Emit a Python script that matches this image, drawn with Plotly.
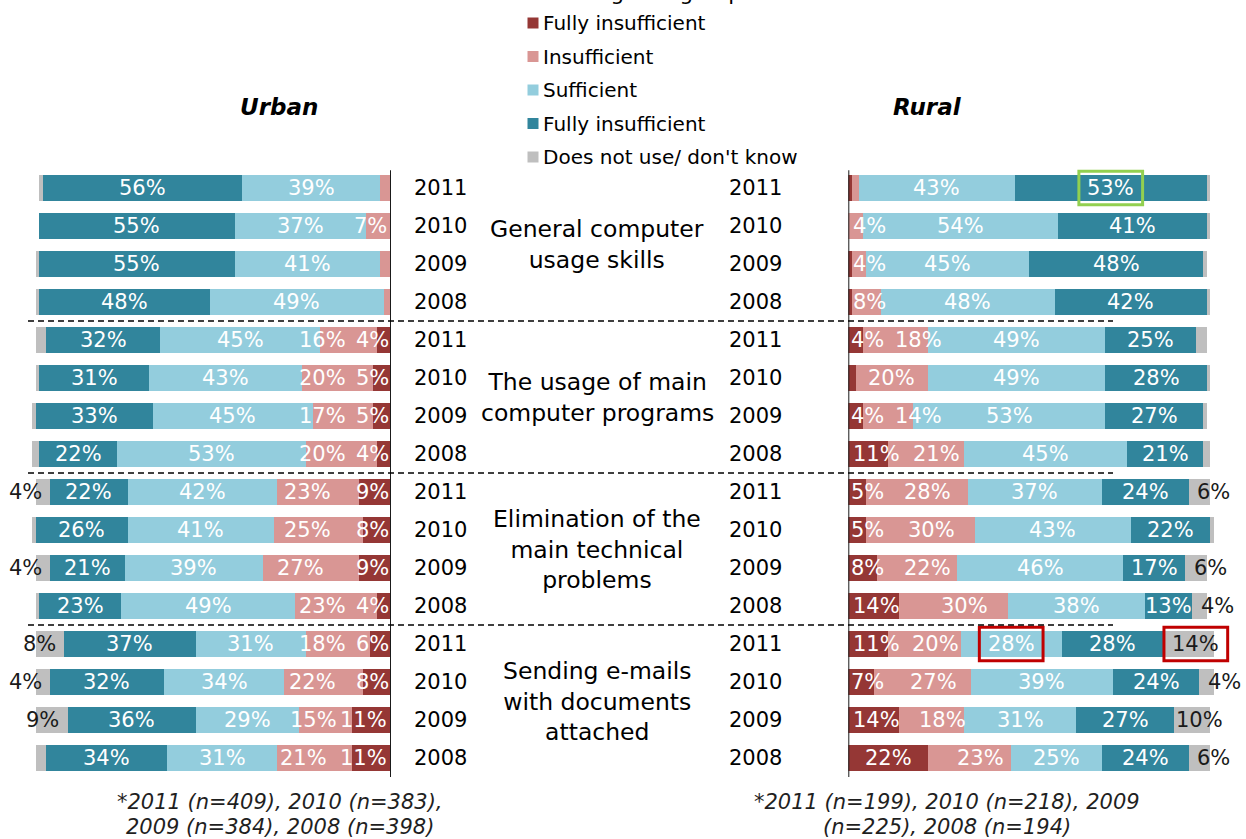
import plotly.graph_objects as go

W, H = 1246, 839
FONT = 'DejaVu Sans'

# ── Data ─────────────────────────────────────────────────────────
GROUPS = [
    'General computer<br>usage skills',
    'The usage of main<br>computer programs',
    'Elimination of the<br>main technical<br>problems',
    'Sending e-mails<br>with documents<br>attached',
]
YEARS = ['2011', '2010', '2009', '2008']
SERIES = ['Fully insufficient', 'Insufficient', 'Sufficient',
          'Fully insufficient', "Does not use/ don't know"]
COLORS = ['#953735', '#D99694', '#93CDDD', '#31859C', '#BFBFBF']

# each list: General (2011..2008), Programs, Elimination, Sending
urban_fully_insufficient = [0, 0, 0, 0,   4, 5, 5, 4,     9, 8, 9, 4,     6, 8, 11, 11]
urban_insufficient       = [3, 7, 3, 2,   16, 20, 17, 20, 23, 25, 27, 23, 18, 22, 15, 21]
urban_sufficient         = [39, 37, 41, 49, 45, 43, 45, 53, 42, 41, 39, 49, 31, 34, 29, 31]
urban_fully_sufficient   = [56, 55, 55, 48, 32, 31, 33, 22, 22, 26, 21, 23, 37, 32, 36, 34]
urban_dont_know          = [1, 0, 1, 1,   3, 1, 1, 2,     4, 1, 4, 1,     8, 4, 9, 3]

rural_fully_insufficient = [1, 0, 1, 1,   4, 2, 4, 11,    5, 5, 8, 14,    11, 7, 14, 22]
rural_insufficient       = [2, 4, 4, 8,   18, 20, 14, 21, 28, 30, 22, 30, 20, 27, 18, 23]
rural_sufficient         = [43, 54, 45, 48, 49, 49, 53, 45, 37, 43, 46, 38, 28, 39, 31, 25]
rural_fully_sufficient   = [53, 41, 48, 42, 25, 28, 27, 21, 24, 22, 17, 13, 28, 24, 27, 24]
rural_dont_know          = [1, 1, 1, 1,   3, 1, 1, 2,     6, 1, 6, 4,     14, 4, 10, 6]

URBAN_NOTE = ['*2011 (n=409), 2010 (n=383),', '2009 (n=384), 2008 (n=398)']
RURAL_NOTE = ['*2011 (n=199), 2010 (n=218), 2009', '(n=225), 2008 (n=194)']

# highlighted labels: (panel, row, series index, colour)
HIGHLIGHTS = [('rural', 0, 3, '#92D050'), ('rural', 12, 2, '#C00000'), ('rural', 12, 4, '#C00000')]

panels = {
    'urban': dict(vals=[urban_fully_insufficient, urban_insufficient, urban_sufficient,
                        urban_fully_sufficient, urban_dont_know], xref='x', yref='y'),
    'rural': dict(vals=[rural_fully_insufficient, rural_insufficient, rural_sufficient,
                        rural_fully_sufficient, rural_dont_know], xref='x2', yref='y2'),
}
rows = list(range(len(GROUPS) * len(YEARS)))

# pixel scale of the two panels (px per percentage point)
U_ZERO, U_SCALE, U_MAX = 391, 3.553, 110
R_ZERO, R_SCALE, R_MAX = 848.3, 3.62, 108


def label_centers(vals, r):
    v = [vals[s][r] for s in range(5)]
    start = [sum(v[:s]) for s in range(5)]
    # keep the innermost label clear of the axis line
    c_dr = max(v[0] / 2, 5.3 if v[0] < 10 else 7.8)
    if v[0] >= 4:
        c_pink = max(start[1] + v[1] / 2 + 3, c_dr + 14)
    else:
        c_pink = max(start[1] + v[1] / 2, 5.8)
    c_light = start[2] + v[2] / 2
    c_teal = start[3] + v[3] / 2
    c_grey = start[4] + max(v[4] / 2 + 2, 7)
    return v, [c_dr, c_pink, c_light, c_teal, c_grey]


def note(text, x, y, size, **kw):
    d = dict(x=x / W, y=1 - y / H, xref='paper', yref='paper', text=text, showarrow=False,
             xanchor='center', yanchor='middle', font=dict(family=FONT, size=size, color='black'))
    d.update(kw)
    return d


fig = go.Figure()
annotations = []
shapes = []

# ── Bars + value labels ─────────────────────────────────────────
for name, p in panels.items():
    for s in range(5):
        fig.add_trace(go.Bar(
            x=p['vals'][s], y=rows, orientation='h', width=0.66,
            marker=dict(color=COLORS[s], line_width=0),
            name=SERIES[s], showlegend=False, hoverinfo='skip',
            xaxis=p['xref'], yaxis=p['yref'],
        ))
    for r in rows:
        v, centers = label_centers(p['vals'], r)
        for s in range(5):
            if v[s] < 4:
                continue
            annotations.append(dict(
                x=centers[s], y=r, xref=p['xref'], yref=p['yref'],
                text=f'{v[s]}%', showarrow=False, xanchor='center', yanchor='middle',
                font=dict(family=FONT, size=21, color='#1a1a1a' if s == 4 else 'white'),
            ))

# highlight boxes around some labels
for name, r, s, col in HIGHLIGHTS:
    p = panels[name]
    _, centers = label_centers(p['vals'], r)
    shapes.append(dict(type='rect', xref=p['xref'], yref=p['yref'],
                       x0=centers[s] - 8.8, x1=centers[s] + 8.8, y0=r - 0.44, y1=r + 0.44,
                       line=dict(color=col, width=3), fillcolor='rgba(0,0,0,0)'))

# ── Axis lines & group separators ───────────────────────────────
for xr, yr in [('x', 'y'), ('x2', 'y2')]:
    shapes.append(dict(type='line', xref=xr, yref=yr, x0=0, x1=0, y0=-0.47, y1=15.58,
                       line=dict(color='#1a1a1a', width=2)))
for g in range(1, len(GROUPS)):
    shapes.append(dict(type='line', xref='paper', yref='y', x0=28 / W, x1=1113 / W,
                       y0=g * 4 - 0.5, y1=g * 4 - 0.5,
                       line=dict(color='black', width=1.5, dash='6px,4px')))

# ── Year and group labels ───────────────────────────────────────
for r in rows:
    for xc in (440, 755):
        annotations.append(dict(x=xc / W, y=r, xref='paper', yref='y', text=YEARS[r % 4],
                                showarrow=False, xanchor='center', yanchor='middle',
                                font=dict(family=FONT, size=21, color='black')))
for g, label in enumerate(GROUPS):
    annotations.append(dict(x=597 / W, y=g * 4 + 1.5, xref='paper', yref='y', text=label,
                            showarrow=False, xanchor='center', yanchor='middle',
                            font=dict(family=FONT, size=23.5, color='black')))

# ── Titles, legend, notes ───────────────────────────────────────
annotations.append(note('% of residents from targeted groups', 558, 7, 21.5, yanchor='bottom'))
annotations.append(note('<b><i>Urban</i></b>', 279, 107, 23))
annotations.append(note('<b><i>Rural</i></b>', 927, 107, 23))

for i, (name, col) in enumerate(zip(SERIES, COLORS)):
    yc = 23 + 33.5 * i
    shapes.append(dict(type='rect', xref='paper', yref='paper',
                       x0=527.5 / W, x1=538.5 / W, y0=1 - (yc + 5.5) / H, y1=1 - (yc - 5.5) / H,
                       fillcolor=col, line_width=0))
    annotations.append(note(name, 541, yc, 20, xanchor='left'))

for lines, xc in [(URBAN_NOTE, 280), (RURAL_NOTE, 947)]:
    for k, line in enumerate(lines):
        annotations.append(note(f'<i>{line}</i>', xc, 802 + 25 * k, 21,
                                font=dict(family=FONT, size=21, color='#1f1f1f')))

fig.update_layout(
    width=W, height=H, margin=dict(l=0, r=0, t=0, b=0),
    barmode='stack', bargap=0.34,
    plot_bgcolor='white', paper_bgcolor='white',
    xaxis=dict(domain=[(U_ZERO - U_MAX * U_SCALE) / W, U_ZERO / W], range=[U_MAX, 0],
               visible=False, fixedrange=True),
    xaxis2=dict(domain=[R_ZERO / W, (R_ZERO + R_MAX * R_SCALE) / W], range=[0, R_MAX],
                visible=False, fixedrange=True),
    yaxis=dict(domain=[1 - 777 / H, 1 - 169 / H], range=[15.5, -0.5], visible=False, anchor='x'),
    yaxis2=dict(domain=[1 - 777 / H, 1 - 169 / H], range=[15.5, -0.5], visible=False, anchor='x2'),
    annotations=annotations, shapes=shapes,
)

fig.write_html('out.html', config={'displayModeBar': False},
               post_script="document.body.style.margin='0px';")
print('saved out.html')
